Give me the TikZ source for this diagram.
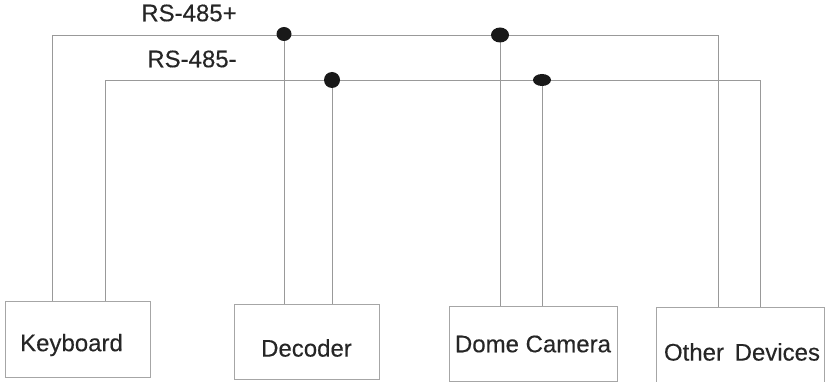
\documentclass[tikz,border=0pt]{standalone}
\usepackage{fontspec}
\setmainfont[FakeBold=0.25]{Liberation Sans}
\usetikzlibrary{
    shapes.geometric % for the bus junction dots
}
\begin{document}
\begin{tikzpicture}[
        x=1pt,y=-1pt,
        line width=0.8pt,
        every node/.style = {inner sep=0pt},
        dev box/.style    = {draw=black!35,fill=none},
        dev label/.style  = {font=\fontsize{24}{26}\selectfont,text=black!85},
        bus line/.style   = {draw=black!40},
        junction/.style   = {fill=black!90,ellipse,inner sep=0pt}
    ]
    \useasboundingbox (0,0) rectangle (829,382);

    % device boxes

        \node [dev box,minimum width=145,minimum height=75.5] (kb) at (78,339.25)  {};
        \node [dev box,minimum width=145,minimum height=75]   (de) at (307,342)    {};
        \node [dev box,minimum width=168,minimum height=75]   (dc) at (533,343.5)  {};
        \node [dev box,minimum width=168,minimum height=75]   (od) at (740,344.5)  {};

        \node [dev label] (kbl) at (71.5,345)  {Keyboard};
        \node [dev label] (del) at (306.5,348) {Decoder};
        \node [dev label] (dcl) at (533,344) {Dome Camera};
        \node [dev label] (odl) at (742,352) {Other\, Devices};

    % bus labels

        \node [dev label] (pl) at (189,13) {RS-485+};
        \node [dev label] (mi) at (192,59) {RS-485-};

    % wiring

        \coordinate (a1) at (52,35);
        \coordinate (a2) at (718,35);
        \coordinate (b1) at (105.5,80);
        \coordinate (b2) at (760,80);

        \coordinate (j1) at (284,35);
        \coordinate (j2) at (500,35);
        \coordinate (j3) at (332,80);
        \coordinate (j4) at (542,80);

        \draw [bus line] (a1 |- kb.north) -- (a1) -- (a2) -- (a2 |- od.north);
        \draw [bus line] (b1 |- kb.north) -- (b1) -- (b2) -- (b2 |- od.north);
        \draw [bus line] (j1) -- (j1 |- de.north);
        \draw [bus line] (j3) -- (j3 |- de.north);
        \draw [bus line] (j2) -- (j2 |- dc.north);
        \draw [bus line] (j4) -- (j4 |- dc.north);

    % junctions

        \node [junction,minimum width=15,minimum height=14] (d1) at (284,34) {};
        \node [junction,minimum width=18,minimum height=15] (d2) at (500,35) {};
        \node [junction,minimum width=16,minimum height=16] (d3) at (332,80) {};
        \node [junction,minimum width=18,minimum height=12] (d4) at (542,80) {};

\end{tikzpicture}
\end{document}
